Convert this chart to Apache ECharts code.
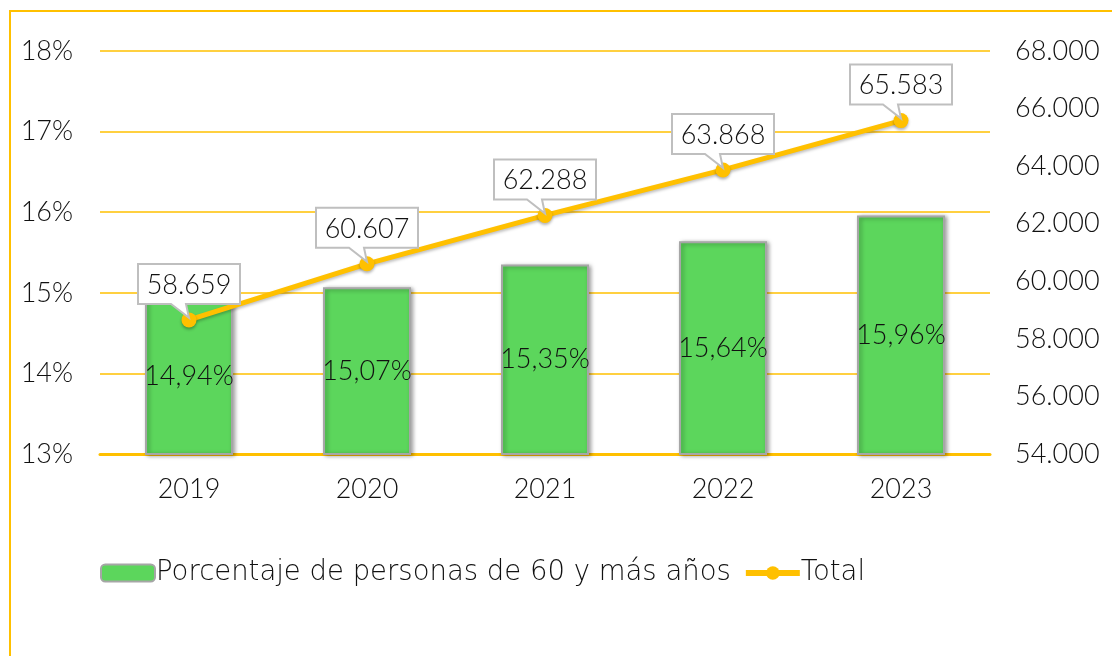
<!DOCTYPE html>
<html lang="es">
<head>
    <meta charset="UTF-8">
    <title>Personas de 60 y más años</title>
    <script src="https://cdn.jsdelivr.net/npm/echarts@6/dist/echarts.min.js"></script>
    <style>
        html, body {margin: 0; padding: 0; background: #fff;}
        #frame {position: absolute; left: 9px; top: 10px; width: 1120px; height: 660px;
            border-left: 2px solid #ffc000; border-top: 2px solid #ffc000;}
        #main {position: absolute; left: 0; top: 0; width: 1112px; height: 656px;}
    </style>
</head>
<body>
<div id="frame"></div>
<div id="main"></div>
<script>
    var years = ['2019', '2020', '2021', '2022', '2023'];
    var porcentaje = [14.94, 15.07, 15.35, 15.64, 15.96];
    var total = [58659, 60607, 62288, 63868, 65583];
    var leftTicks = {min: 13, max: 18, interval: 1};
    var rightTicks = {min: 54000, max: 68000, interval: 2000};

    var FONT = 'Lato';
    var WIDE = 'DejaVu Sans';
    var fmtMiles = function (v) {
        return String(v).replace(/\B(?=(\d{3})+(?!\d))/g, '.');
    };

    var myChart = echarts.init(document.getElementById('main'));

    myChart.setOption({
        animation: false,
        textStyle: {fontFamily: FONT, color: '#111'},
        grid: {left: 100, right: 122, top: 51, bottom: 202, containLabel: false},
        legend: {
            left: 95, top: 554,
            itemWidth: 54, itemHeight: 17, itemGap: 12,
            textStyle: {fontSize: 27.5, fontFamily: WIDE, fontWeight: 200, color: '#111', padding: [0, 0, 0, -4]},
            data: [
                {name: 'Porcentaje de personas de 60 y más años'},
                {name: 'Total', lineStyle: {width: 6}, itemStyle: {borderWidth: 0}}
            ]
        },
        xAxis: {
            type: 'category',
            data: years,
            axisLine: {lineStyle: {color: '#ffc000', width: 3}},
            axisTick: {show: false},
            axisLabel: {fontSize: 27, fontWeight: 300, color: '#111', margin: 22}
        },
        yAxis: [{
            type: 'value',
            min: leftTicks.min, max: leftTicks.max, interval: leftTicks.interval,
            axisLine: {show: false}, axisTick: {show: false},
            splitLine: {lineStyle: {color: '#ffc000', width: 1.5}},
            axisLabel: {fontSize: 27, fontWeight: 300, color: '#111', margin: 27, formatter: '{value}%'}
        }, {
            type: 'value',
            min: rightTicks.min, max: rightTicks.max, interval: rightTicks.interval,
            axisLine: {show: false}, axisTick: {show: false},
            splitLine: {show: false},
            axisLabel: {fontSize: 27, fontWeight: 300, color: '#111', margin: 25, formatter: fmtMiles}
        }],
        series: [{
            name: 'Porcentaje de personas de 60 y más años',
            type: 'bar',
            data: porcentaje,
            barWidth: 88,
            itemStyle: {
                color: '#5cd65c', borderColor: '#a6a6a6', borderWidth: 2,
                shadowBlur: 4, shadowColor: 'rgba(0,0,0,0.35)', shadowOffsetX: 2, shadowOffsetY: 1
            },
            label: {
                show: true, position: 'inside', fontSize: 27, fontWeight: 300, color: '#111',
                formatter: function (p) { return p.value.toFixed(2).replace('.', ',') + '%'; }
            }
        }, {
            name: 'Total',
            type: 'line',
            yAxisIndex: 1,
            data: total,
            symbol: 'circle', symbolSize: 15,
            lineStyle: {color: '#ffc000', width: 5, shadowBlur: 3, shadowColor: 'rgba(0,0,0,0.25)', shadowOffsetY: 2},
            itemStyle: {color: '#ffc000', shadowBlur: 3, shadowColor: 'rgba(0,0,0,0.3)', shadowOffsetY: 2},
            z: 3
        }, {
            // callouts for the line values
            type: 'custom',
            yAxisIndex: 1,
            data: total.map(function (v, i) { return [i, v]; }),
            z: 5,
            silent: true,
            renderItem: function (params, api) {
                var p = api.coord([api.value(0), api.value(1)]);
                var x = p[0], y = p[1];
                var w = 102, h = 40, gap = 16;
                var l = x - w / 2, r = x + w / 2, b = y - gap, t = b - h;
                return {
                    type: 'group',
                    children: [{
                        type: 'polygon',
                        shape: {points: [[l, t], [r, t], [r, b], [x - 3, b], [x, y - 2], [x - 18, b], [l, b]]},
                        style: {fill: '#fff', stroke: '#bfbfbf', lineWidth: 2}
                    }, {
                        type: 'text',
                        style: {
                            x: x, y: t + h / 2 + 1, text: fmtMiles(api.value(1)),
                            align: 'center', verticalAlign: 'middle',
                            font: '300 27px ' + FONT, fill: '#111'
                        }
                    }]
                };
            }
        }]
    });
</script>
</body>
</html>
